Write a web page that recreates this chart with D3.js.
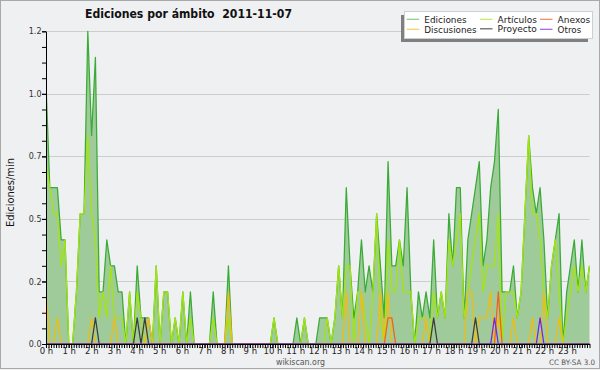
<!DOCTYPE html>
<html><head><meta charset="utf-8">
<script src="https://cdn.jsdelivr.net/npm/d3@7"></script>
<style>
body{margin:0;background:#f0f0f0;}
svg{display:block;font-family:"DejaVu Sans",sans-serif;}
</style></head><body>
<svg id="c" width="600" height="370"></svg>
<script>
// 10-minute bins, edits per minute (144 points, 00:00 .. 23:50)
const ediciones=[
1.0,0.6,0.6,0.6,0.4,0.4,0,0,0.2,0.5,0.5,1.2,
0.8,1.1,0.2,0.2,0.4,0.3,0.3,0.2,0.2,0,0.2,0,
0.3,0.1,0.1,0.1,0,0.3,0,0.2,0.2,0,0.1,0,
0.2,0,0.2,0,0,0,0,0,0.2,0,0,0,
0.3,0,0,0,0,0,0,0,0,0,0,0,
0.1,0,0,0,0,0,0.1,0,0.1,0,0,0,
0.1,0.1,0.1,0,0.1,0.3,0.1,0.6,0.3,0.1,0.2,0.4,
0.2,0.3,0.2,0.5,0.3,0.1,0.7,0.3,0.3,0.4,0.3,0.6,
0.2,0,0.2,0.1,0.2,0.1,0.4,0.1,0.2,0.1,0.5,0.3,
0.6,0.6,0.1,0.4,0.5,0.6,0.7,0.3,0.4,0.6,0.7,0.9,
0.2,0.2,0.2,0.3,0.1,0.2,0.5,0.8,0.6,0.5,0.6,0.4,
0.1,0.3,0.4,0.5,0,0.2,0.3,0.4,0.2,0.4,0.2,0.3];
const articulos=[
0.7,0.6,0.5,0.5,0.3,0.4,0,0,0.2,0.5,0.5,0.8,
0.5,0.4,0.1,0.2,0.1,0.3,0.1,0.1,0.1,0,0.2,0,
0.2,0.1,0,0,0,0.3,0,0.2,0.2,0,0.1,0,
0.2,0,0.1,0,0,0,0,0,0.1,0,0,0,
0.1,0,0,0,0,0,0,0,0,0,0,0,
0.1,0,0,0,0,0,0,0,0.1,0,0,0,
0,0,0.1,0,0.1,0.3,0.1,0.3,0.3,0,0.2,0.2,
0.1,0,0.2,0.5,0.1,0,0.4,0.2,0.2,0.4,0.2,0.2,
0.2,0,0.1,0.1,0.1,0,0.2,0.1,0.2,0.1,0.4,0.3,
0.4,0.5,0.1,0.2,0.3,0.4,0.5,0.2,0.3,0.3,0.3,0.5,
0,0.2,0.2,0.2,0.1,0.2,0.5,0.8,0.5,0.5,0.4,0.2,
0.1,0.3,0.4,0.2,0,0.1,0.2,0.3,0.2,0.3,0.2,0.3];
const discusiones=[
0.2,0,0,0.1,0,0,0,0,0,0,0,0,
0.1,0,0,0,0,0,0.1,0,0,0,0,0,
0,0,0,0.1,0,0,0,0,0,0,0,0,
0,0,0,0,0,0,0,0,0,0,0,0,
0.2,0,0,0,0,0,0,0,0,0,0,0,
0,0,0,0,0,0,0,0,0,0,0,0,
0,0,0,0,0,0,0,0.2,0,0,0,0.2,
0,0,0,0,0.2,0,0.2,0,0,0,0,0,
0,0,0,0,0.1,0,0,0,0,0,0,0,
0,0,0,0.2,0.2,0,0.1,0.1,0.1,0.2,0,0.1,
0,0,0,0.1,0,0,0,0,0.1,0,0,0.2,
0,0,0,0.1,0,0,0,0,0,0,0,0];
const anexos=[
0,0,0,0,0,0,0,0,0,0,0,0,
0,0,0,0,0,0,0,0,0,0,0,0,
0,0,0,0,0,0,0,0,0,0,0,0,
0,0,0,0,0,0,0,0,0,0,0,0,
0,0,0,0,0,0,0,0,0,0,0,0,
0,0,0,0,0,0,0,0,0,0,0,0,
0,0,0,0,0,0,0,0,0,0,0,0,
0,0,0,0,0,0,0.1,0.1,0,0,0,0,
0,0,0,0,0,0,0,0,0,0,0,0,
0,0,0,0,0,0,0,0,0,0,0,0.2,
0,0,0,0,0,0,0,0,0,0,0,0,
0,0,0,0,0,0,0,0,0,0,0,0];
const proyecto=[
0,0,0,0,0,0,0,0,0,0,0,0,
0,0.1,0,0,0,0,0,0,0,0,0,0,
0.1,0,0.1,0,0,0,0,0,0,0,0,0,
0,0,0,0,0,0,0,0,0,0,0,0,
0,0,0,0,0,0,0,0,0,0,0,0,
0,0,0,0,0,0,0,0,0,0,0,0,
0,0,0,0,0,0,0,0,0,0,0,0,
0,0,0,0,0,0,0,0,0,0,0,0,
0,0,0,0,0,0,0.1,0,0,0,0,0,
0,0,0,0,0,0.1,0,0,0,0,0,0,
0,0,0,0,0,0,0,0,0,0,0,0,
0,0,0,0,0,0,0,0,0,0,0,0];
const otros=[
0,0,0,0,0,0,0,0,0,0,0,0,
0,0,0,0,0,0,0,0,0,0,0,0,
0,0,0,0,0,0,0,0,0,0,0,0,
0,0,0,0,0,0,0,0,0,0,0,0,
0,0,0,0,0,0,0,0,0,0,0,0,
0,0,0,0,0,0,0,0,0,0,0,0,
0,0,0,0,0,0,0,0,0,0,0,0,
0,0,0,0,0,0,0,0,0,0,0,0,
0,0,0,0,0,0,0,0,0,0,0,0,
0,0,0,0,0,0,0,0,0,0,0.1,0,
0,0,0,0,0,0,0,0,0,0,0.1,0,
0,0,0,0,0,0,0,0,0,0,0,0];
const hours=d3.range(0,24);
const yTicks=[0,0.24,0.48,0.72,0.96,1.2];
const seriesNames=["Ediciones","Artículos","Anexos","Discusiones","Proyecto","Otros"];
const title="Ediciones por ámbito  2011-11-07";

const colors={Ediciones:"#3aab36",Artículos:"#a4e60c",Anexos:"#f2601c",Discusiones:"#f4bc0c",Proyecto:"#3c3c3c",Otros:"#7a22e4"};
const legendColors={Ediciones:"#86cc86",Artículos:"#c6ec5a",Anexos:"#f3855a",Discusiones:"#f6cc58",Proyecto:"#5c5c5c",Otros:"#9a5cf0"};
const dataByName={Ediciones:ediciones,Artículos:articulos,Anexos:anexos,Discusiones:discusiones,Proyecto:proyecto,Otros:otros};

const X0=46,X1=589.5,Y0=344,Y1=31.3;
const svg=d3.select("#c");
svg.append("rect").attr("x",0.5).attr("y",0.5).attr("width",599).attr("height",368)
  .attr("fill","#eff0f1").attr("stroke","#a9a9a9").attr("stroke-width",1);

const x=d3.scaleLinear().domain([0,ediciones.length-1]).range([X0,X1]);
const xh=d3.scaleLinear().domain([0,24]).range([X0,X1]);
const y=d3.scaleLinear().domain([0,1.2]).range([Y0,Y1]);

// grid
svg.append("g").selectAll("line").data(yTicks.slice(1)).join("line")
  .attr("x1",X0).attr("x2",X1).attr("y1",d=>Math.round(y(d))+0.5).attr("y2",d=>Math.round(y(d))+0.5)
  .attr("stroke","#cdcdcd").attr("stroke-width",1);

// area + lines
svg.append("defs").append("clipPath").attr("id","pc").append("rect")
  .attr("x",X0).attr("y",0).attr("width",X1-X0+1).attr("height",Y0);
const g=svg.append("g").attr("clip-path","url(#pc)");
g.append("path").datum(ediciones)
  .attr("d",d3.area().x((d,i)=>x(i)).y0(y(0)).y1(d=>y(d)))
  .attr("fill","#9fcb9b");
const line=d3.line().x((d,i)=>x(i)).y(d=>y(d));
["Ediciones","Artículos","Discusiones","Anexos","Proyecto","Otros"].forEach(n=>{
  g.append("path").datum(dataByName[n]).attr("d",line).attr("fill","none")
   .attr("stroke",colors[n]).attr("stroke-width",1.25).attr("stroke-linejoin","round");
});

// axes
const yAxis=svg.append("g").attr("transform",`translate(${X0},0)`)
  .call(d3.axisLeft(y).tickValues(yTicks).tickSize(4).tickSizeOuter(0).tickPadding(0.5).tickFormat(d3.format(".1f")));
svg.append("g").attr("transform",`translate(${X0},0)`)
  .call(d3.axisLeft(y).tickValues(d3.range(0,21).map(k=>k*0.06)).tickSize(4).tickSizeOuter(0).tickFormat(""));
const xAxis=svg.append("g").attr("transform",`translate(0,${Y0})`)
  .call(d3.axisBottom(xh).tickValues(hours).tickSize(4).tickSizeOuter(0).tickFormat(d=>d+" h"));
svg.append("g").attr("transform",`translate(0,${Y0})`)
  .call(d3.axisBottom(xh).tickValues(d3.range(0,217).map(k=>k/9)).tickSize(4).tickSizeOuter(0).tickFormat(""));
svg.selectAll(".domain").attr("stroke","#000").attr("stroke-width",1);
svg.selectAll(".tick line").attr("stroke","#000");
yAxis.selectAll("text").attr("font-size",8).attr("fill","#333").attr("font-family","DejaVu Sans");
xAxis.selectAll("text").attr("font-size",8.5).attr("fill","#222").attr("font-family","DejaVu Sans")
  .attr("y",0).attr("dy",0).attr("transform","translate(0,9.5)");

// title
svg.append("text").attr("x",85).attr("y",18.3).text(title)
  .attr("font-size",12.5).attr("font-weight","bold").attr("fill","#111")
  .style("white-space","pre").attr("textLength",207).attr("lengthAdjust","spacingAndGlyphs");

// y label
svg.append("text").attr("transform","translate(13.5,192.5) rotate(-90)").attr("text-anchor","middle")
  .text("Ediciones/min").attr("font-size",11).attr("fill","#111")
  .attr("textLength",69).attr("lengthAdjust","spacingAndGlyphs");

// footer
svg.append("text").attr("x",276).attr("y",364.5).text("wikiscan.org").attr("font-size",8.5).attr("fill","#555")
  .attr("textLength",49).attr("lengthAdjust","spacingAndGlyphs");
svg.append("text").attr("x",549).attr("y",365).text("CC BY-SA 3.0").attr("font-size",7.5).attr("fill","#555")
  .attr("textLength",46).attr("lengthAdjust","spacingAndGlyphs");

// legend
svg.append("rect").attr("x",401).attr("y",15).attr("width",187).attr("height",27).attr("fill","#7f7f7f");
svg.append("rect").attr("x",404.5).attr("y",11.5).attr("width",188).attr("height",27).attr("fill","#fff").attr("stroke","#cfcfcf");
const legPos={Ediciones:[406.7,19.3,42.3,22.7],Artículos:[480,19.3,39.3,22.7],Anexos:[540,19.3,32.7,22.7],
  Discusiones:[406.7,29.3,52.3,32.9],Proyecto:[480,28.8,39.3,32.4],Otros:[540,29.3,23.7,32.9]};
seriesNames.forEach(n=>{
  const [lx,ly,tw,tb]=legPos[n];
  svg.append("line").attr("x1",lx).attr("x2",lx+12.5).attr("y1",ly).attr("y2",ly)
    .attr("stroke",legendColors[n]).attr("stroke-width",1.2);
  svg.append("text").attr("x",lx+17.6).attr("y",tb).text(n).attr("font-size",9.5).attr("fill","#222")
    .attr("textLength",tw).attr("lengthAdjust","spacingAndGlyphs");
});
</script></body></html>
